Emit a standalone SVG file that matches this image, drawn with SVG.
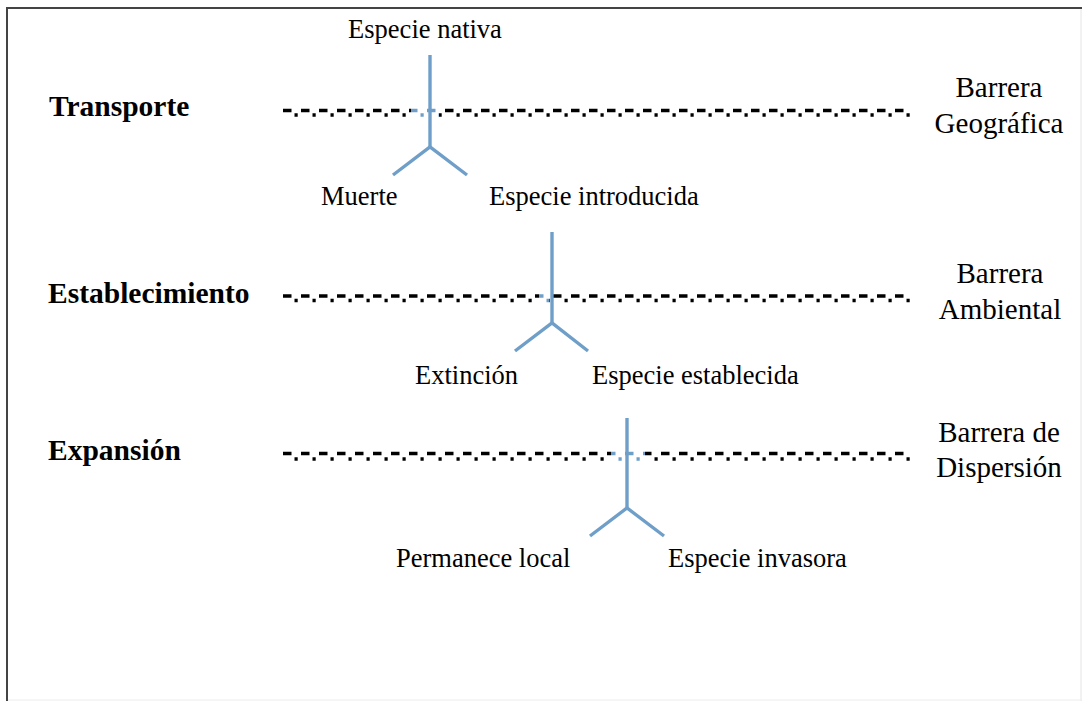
<svg xmlns="http://www.w3.org/2000/svg" width="1082" height="701" viewBox="0 0 1082 701">
<style>
.lbl{font-family:"Liberation Serif","Times New Roman",serif;fill:#000;}
.stage{font-size:29.5px;font-weight:bold;}
.out{font-size:26.5px;}
.bar{font-size:29px;text-anchor:middle;}
.dash{stroke:#000;stroke-width:3.6;stroke-dasharray:8.5 9.5;fill:none;}
.dot{stroke:#000;stroke-width:3.6;stroke-dasharray:3.2 14.8;fill:none;}
.bdash{stroke:#6f9fc8;stroke-width:3.6;stroke-dasharray:8.5 9.5;fill:none;}
.bdot{stroke:#6f9fc8;stroke-width:3.6;stroke-dasharray:3.2 14.8;fill:none;}
.flow{stroke:#6f9fc8;stroke-width:3.4;fill:none;stroke-linecap:butt;stroke-linejoin:miter;}
</style>
<defs>
<clipPath id="k1"><rect x="0" y="0" width="411" height="701"/><rect x="439" y="0" width="643" height="701"/></clipPath>
<clipPath id="b1"><rect x="411" y="0" width="28" height="701"/></clipPath>
<clipPath id="k2"><rect x="0" y="0" width="539" height="701"/><rect x="549" y="0" width="533" height="701"/></clipPath>
<clipPath id="b2"><rect x="539" y="0" width="10" height="701"/></clipPath>
<clipPath id="k3"><rect x="0" y="0" width="611" height="701"/><rect x="645" y="0" width="437" height="701"/></clipPath>
<clipPath id="b3"><rect x="611" y="0" width="34" height="701"/></clipPath>
</defs>
<rect x="0" y="0" width="1082" height="701" fill="#fff"/>
<g id="frame">
<line x1="6" y1="8" x2="1082" y2="8" stroke="#444" stroke-width="2"/>
<line x1="7" y1="7" x2="7" y2="701" stroke="#444" stroke-width="2"/>
<line x1="1081" y1="9" x2="1081" y2="701" stroke="#e4e4e4" stroke-width="1"/>
<line x1="8" y1="700" x2="1082" y2="700" stroke="#ececec" stroke-width="1"/>
</g>
<g id="barriers">
<g id="barrier-geografica">
<g clip-path="url(#k1)"><line class="dash" x1="283" y1="110.5" x2="912" y2="110.5"/><line class="dot" x1="294.5" y1="115" x2="912" y2="115"/></g>
<g clip-path="url(#b1)"><line class="bdash" x1="283" y1="110.5" x2="912" y2="110.5"/><line class="bdot" x1="294.5" y1="115" x2="912" y2="115"/></g>
</g>
<g id="barrier-ambiental">
<g clip-path="url(#k2)"><line class="dash" x1="283" y1="296" x2="912" y2="296"/><line class="dot" x1="294.5" y1="300.5" x2="912" y2="300.5"/></g>
<g clip-path="url(#b2)"><line class="bdash" x1="283" y1="296" x2="912" y2="296"/><line class="bdot" x1="294.5" y1="300.5" x2="912" y2="300.5"/></g>
</g>
<g id="barrier-dispersion">
<g clip-path="url(#k3)"><line class="dash" x1="283" y1="453.5" x2="910" y2="453.5"/><line class="dot" x1="294.5" y1="459" x2="910" y2="459"/></g>
<g clip-path="url(#b3)"><line class="bdash" x1="283" y1="453.5" x2="910" y2="453.5"/><line class="bdot" x1="294.5" y1="459" x2="910" y2="459"/></g>
</g>
</g>
<g id="connectors">
<polyline class="flow" points="430,55 430,147"/>
<polyline class="flow" points="393,175 430,147 467,175"/>
<polyline class="flow" points="552,232 552,323"/>
<polyline class="flow" points="515,351 552,323 588,351"/>
<polyline class="flow" points="627,418 627,508"/>
<polyline class="flow" points="590,536 627,508 664,536"/>
</g>
<g id="stage-transporte"><text class="lbl stage" x="49" y="116">Transporte</text></g>
<g id="stage-establecimiento"><text class="lbl stage" x="48" y="303">Establecimiento</text></g>
<g id="stage-expansion"><text class="lbl stage" x="48" y="460">Expansión</text></g>
<g id="node-nativa"><text class="lbl out" x="425" y="38" text-anchor="middle">Especie nativa</text></g>
<g id="node-muerte"><text class="lbl out" x="321" y="205">Muerte</text></g>
<g id="node-introducida"><text class="lbl out" x="489" y="205">Especie introducida</text></g>
<g id="node-extincion"><text class="lbl out" x="415" y="384">Extinción</text></g>
<g id="node-establecida"><text class="lbl out" x="592" y="384">Especie establecida</text></g>
<g id="node-local"><text class="lbl out" x="396" y="567">Permanece local</text></g>
<g id="node-invasora"><text class="lbl out" x="668" y="567">Especie invasora</text></g>
<g id="label-geografica"><text class="lbl bar" x="999" y="97">Barrera</text><text class="lbl bar" x="999" y="133">Geográfica</text></g>
<g id="label-ambiental"><text class="lbl bar" x="1000" y="283">Barrera</text><text class="lbl bar" x="1000" y="319">Ambiental</text></g>
<g id="label-dispersion"><text class="lbl bar" x="999" y="442">Barrera de</text><text class="lbl bar" x="999" y="477">Dispersión</text></g>
</svg>
